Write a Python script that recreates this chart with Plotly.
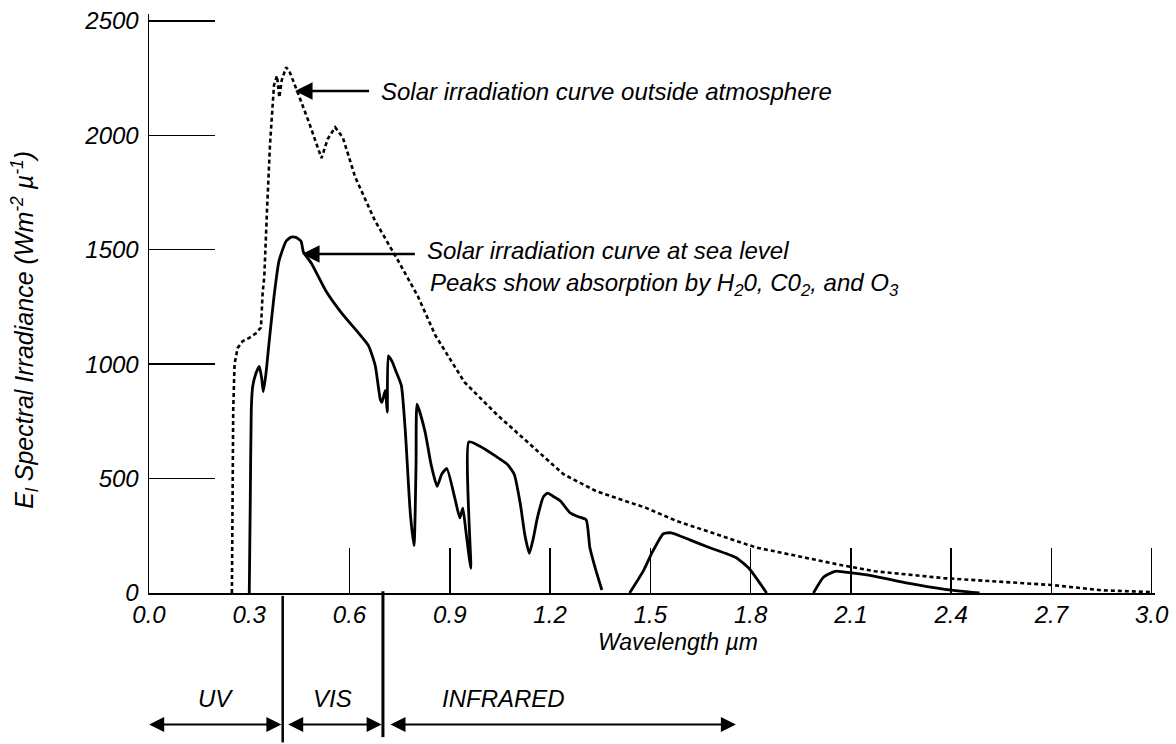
import plotly.graph_objects as go

# ---- data ----
# Solar irradiation outside atmosphere (dotted curve)
out_x = [0.248, 0.250, 0.252, 0.256, 0.265, 0.280, 0.300, 0.320, 0.335, 0.340, 0.345,
         0.353, 0.362, 0.374, 0.383, 0.390, 0.397, 0.410, 0.420, 0.440, 0.478, 0.516,
         0.535, 0.557, 0.580, 0.617, 0.676, 0.745, 0.804, 0.857, 0.944, 1.042, 1.140,
         1.240, 1.338, 1.487, 1.578, 1.816, 2.074, 2.172, 2.377, 2.700, 2.850, 3.000]
out_y = [0, 400, 800, 1000, 1070, 1100, 1115, 1135, 1160, 1310, 1384,
         1670, 1959, 2219, 2260, 2165, 2240, 2297, 2280, 2206, 2059, 1900,
         1985, 2035, 1990, 1817, 1627, 1453, 1298, 1125, 921, 778, 649,
         519, 445, 372, 315, 199, 121, 95, 65, 35, 12, 4]

# Solar irradiation at sea level (solid curve, three separate bands)
sea_x = [0.300, 0.303, 0.306, 0.310, 0.320, 0.330, 0.337, 0.342, 0.350, 0.360, 0.374,
         0.389, 0.410, 0.425, 0.440, 0.455, 0.462, 0.487, 0.529, 0.577, 0.627, 0.657,
         0.677, 0.692, 0.697, 0.707, 0.713, 0.716, 0.728, 0.737, 0.755, 0.767, 0.782,
         0.793, 0.799, 0.802, 0.826, 0.844, 0.862, 0.876, 0.891, 0.915, 0.930, 0.939,
         0.948, 0.963, 0.957, 0.993, 1.035, 1.073, 1.093, 1.111, 1.125, 1.138, 1.150,
         1.162, 1.180, 1.192, 1.212, 1.231, 1.260, 1.285, 1.308, 1.319, 1.335, 1.355,
         None,
         1.438, 1.480, 1.504, 1.539, 1.563, 1.620, 1.676, 1.756, 1.795, 1.848,
         None,
         1.988, 2.018, 2.053, 2.083, 2.172, 2.270, 2.377, 2.485]
sea_y = [0, 400, 800, 900, 960, 990, 940, 880, 960, 1105, 1295,
         1451, 1537, 1555, 1554, 1537, 1490, 1438, 1321, 1222, 1136, 1080,
         993, 846, 833, 885, 790, 1036, 1010, 976, 907, 704, 345,
         207, 561, 825, 704, 561, 466, 520, 544, 415, 328, 371,
         272, 108, 660, 639, 600, 561, 518, 389, 250, 173, 240,
         328, 420, 436, 420, 402, 350, 333, 320, 199, 110, 13,
         None,
         0, 99, 173, 259, 263, 231, 199, 155, 108, 0,
         None,
         0, 69, 95, 91, 73, 43, 17, 0]

x_tickvals = [0.0, 0.3, 0.6, 0.9, 1.2, 1.5, 1.8, 2.1, 2.4, 2.7, 3.0]
x_ticktext = ["0.0", "0.3", "0.6", "0.9", "1.2", "1.5", "1.8", "2.1", "2.4", "2.7", "3.0"]
y_tickvals = [0, 500, 1000, 1500, 2000, 2500]
y_ticktext = ["0", "500", "1000", "1500", "2000", "2500"]

# spectral band boundaries (μm)
band_edges = [0.0, 0.4, 0.7, 1.76]
band_names = ["UV", "VIS", "INFRARED"]

FONT = "Liberation Sans, Arial, sans-serif"

fig = go.Figure()
fig.add_trace(go.Scatter(x=out_x, y=out_y, mode="lines",
                         line=dict(color="black", width=2.6, dash="4px,3px"),
                         showlegend=False, hoverinfo="skip"))
fig.add_trace(go.Scatter(x=sea_x, y=sea_y, mode="lines", connectgaps=False,
                         line=dict(color="black", width=2.8, shape="spline", smoothing=0.5),
                         showlegend=False, hoverinfo="skip"))

ann = []
# curve labels with arrows
ann.append(dict(x=0.437, y=2193, ax=0.663, ay=2193, xref="x", yref="y", axref="x", ayref="y",
                text="", showarrow=True, arrowhead=2, arrowsize=1.4, arrowwidth=2.5, arrowcolor="black"))
ann.append(dict(x=0.687, y=2193, xref="x", yref="y", xanchor="left", yanchor="middle",
                text="Solar irradiation curve outside atmosphere", showarrow=False,
                font=dict(family=FONT, size=24, color="black", style="italic")))
ann.append(dict(x=0.458, y=1481, ax=0.80, ay=1481, xref="x", yref="y", axref="x", ayref="y",
                text="", showarrow=True, arrowhead=2, arrowsize=1.4, arrowwidth=2.5, arrowcolor="black"))
ann.append(dict(x=0.827, y=1495, xref="x", yref="y", xanchor="left", yanchor="middle",
                text="Solar irradiation curve at sea level", showarrow=False,
                font=dict(family=FONT, size=24, color="black", style="italic")))
ann.append(dict(x=0.836, y=1348, xref="x", yref="y", xanchor="left", yanchor="middle",
                text="Peaks show absorption by H<sub>2</sub>0, C0<sub>2</sub>, and O<sub>3</sub>",
                showarrow=False,
                font=dict(family=FONT, size=24, color="black", style="italic")))

# axis titles
ann.append(dict(x=1.582, y=-0.085, xref="x", yref="paper", xanchor="center", yanchor="middle",
                text="Wavelength µm", showarrow=False,
                font=dict(family=FONT, size=23, color="black", style="italic")))
ann.append(dict(x=-0.124, y=0.455, xref="paper", yref="paper", xanchor="center", yanchor="middle",
                textangle=-90,
                text="E<sub>l</sub> Spectral Irradiance (Wm<sup>-2</sup> µ<sup>-1</sup>)",
                showarrow=False,
                font=dict(family=FONT, size=25, color="black", style="italic")))

# band labels and double-headed arrows
gaps = [0.004, 0.012, 0.018]
for i, name in enumerate(band_names):
    lo, hi = band_edges[i], band_edges[i + 1]
    cx = (lo + hi) / 2 if i < 2 else 1.06
    ann.append(dict(x=cx, y=-0.183, xref="x", yref="paper", xanchor="center", yanchor="middle",
                    text=name, showarrow=False,
                    font=dict(family=FONT, size=24, color="black", style="italic")))
    ann.append(dict(x=hi - 0.004, y=-0.227, ax=lo + gaps[i] - 0.008 if i == 0 else lo + gaps[i],
                    ay=0, xref="x", yref="paper", axref="x", ayref="pixel",
                    text="", showarrow=True, arrowhead=2, arrowside="end+start",
                    arrowsize=1.5, arrowwidth=2, arrowcolor="black"))

shapes = []
for edge, y0, y1, w in [(band_edges[1], -0.005, -0.258, 2.5), (band_edges[2], 0.003, -0.249, 3)]:
    shapes.append(dict(type="line", xref="x", yref="paper", x0=edge, x1=edge, y0=y0, y1=y1,
                       line=dict(color="black", width=w)))

fig.update_layout(
    width=1176, height=744,
    margin=dict(l=149, r=15, t=7, b=151),
    paper_bgcolor="white", plot_bgcolor="white",
    font=dict(family=FONT, color="black"),
    annotations=ann, shapes=shapes,
    xaxis=dict(range=[0, 3.01], showgrid=False, zeroline=False,
               showline=True, linecolor="black", linewidth=1.5,
               ticks="inside", ticklen=45, tickwidth=1.5, tickcolor="black",
               tickvals=x_tickvals, ticktext=x_ticktext,
               tickfont=dict(family=FONT, size=24, color="black", style="italic")),
    yaxis=dict(range=[0, 2530], showgrid=False, zeroline=False,
               showline=True, linecolor="black", linewidth=1.5,
               ticks="inside", ticklen=66, tickwidth=1.5, tickcolor="black",
               ticklabelstandoff=4,
               tickvals=y_tickvals, ticktext=y_ticktext,
               tickfont=dict(family=FONT, size=24, color="black", style="italic")),
)

fig.write_html("out.html",
               config={"displayModeBar": False, "staticPlot": True},
               post_script="document.body.style.margin='0px';document.body.style.overflow='hidden';")
